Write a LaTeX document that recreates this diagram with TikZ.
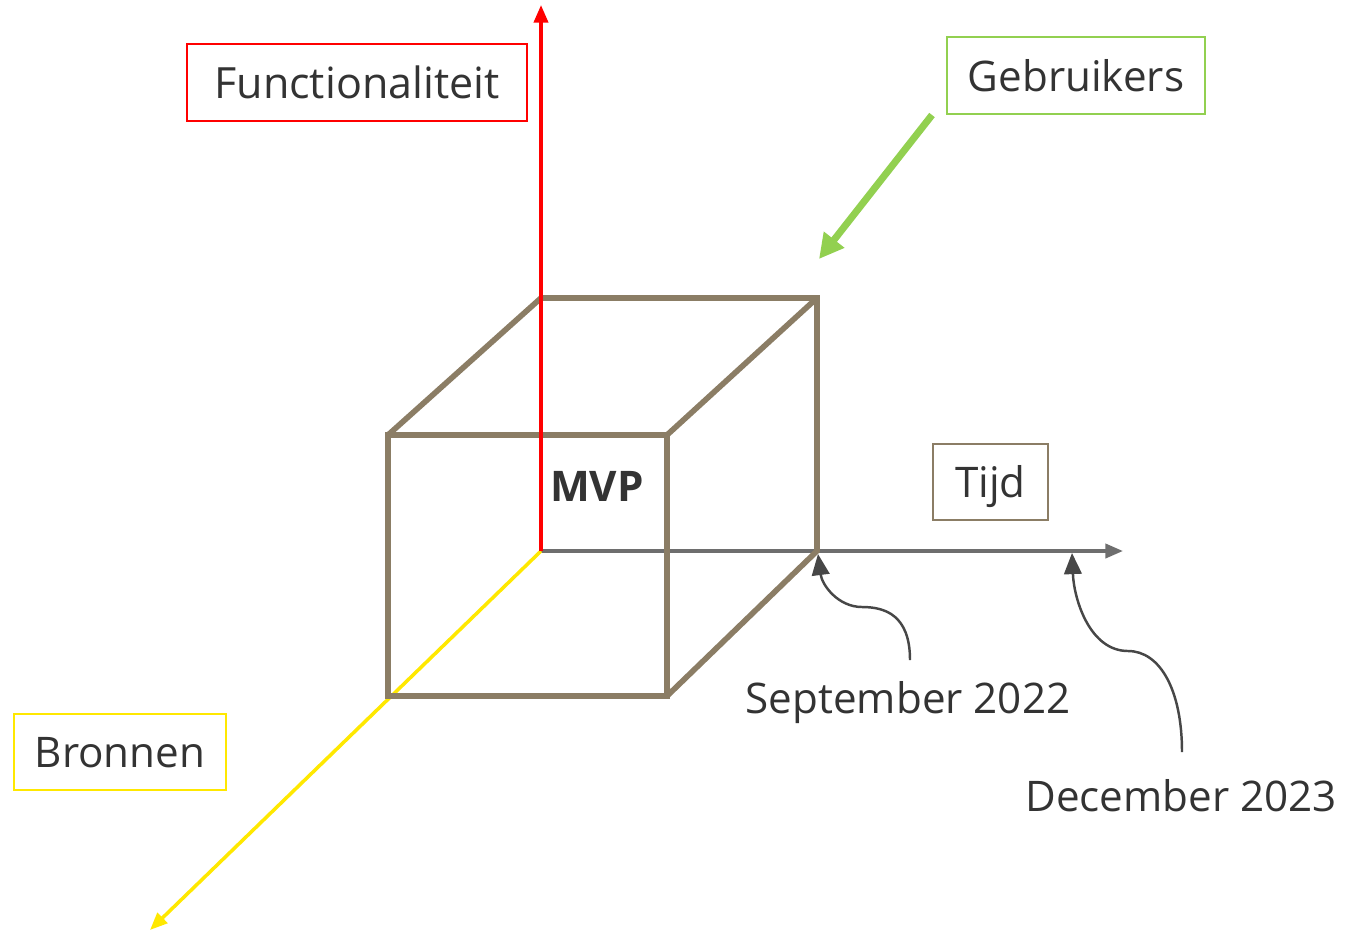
\documentclass[tikz,border=0pt]{standalone}
\usepackage{fontspec}
\setmainfont{Open Sans}
\usepackage{tikz}
\usetikzlibrary{arrows.meta,positioning}
\definecolor{cubebrown}{HTML}{8B7D65}
\definecolor{axisgray}{HTML}{6E6E6E}
\definecolor{txtgray}{HTML}{333333}
\definecolor{usergreen}{HTML}{92D050}
\definecolor{srcyellow}{HTML}{FFE800}
\begin{document}
\begin{tikzpicture}[x=0.02cm,y=-0.02cm]
                    \tikzstyle{every node}+=[inner sep=0pt,text=txtgray,font=\fontsize{24}{28}\selectfont]
                    \tikzstyle{labelbox}=[draw,line width=1pt,minimum height=1.53cm,text height=18pt,text depth=0pt]
                    \tikzstyle{cubeline}=[cubebrown,line width=3.2pt,line join=miter]
                    \tikzstyle{pointer}=[txtgray!90,line width=1.4pt,-{Triangle[length=12pt,width=10pt]}]
                    \useasboundingbox (0,0) rectangle (1345,931);
                    % axes
                    \coordinate (origin) at (541,551);
                    \coordinate (functip) at (541,5);
                    \coordinate (timetip) at (1123,551);
                    \coordinate (srctip) at (150,930);
                    \draw [axisgray,line width=2pt,-{Triangle[length=10pt,width=8pt]}] (origin) -- (timetip);
                    \draw [srcyellow,line width=2pt,-{Triangle[length=10pt,width=8pt]}] (origin) -- (srctip);
                    % cube
                    \coordinate (fa) at (388,435);
                    \coordinate (fb) at (667,435);
                    \coordinate (fc) at (667,696);
                    \coordinate (fd) at (388,696);
                    \coordinate (ba) at (541,298);
                    \coordinate (bb) at (817,298);
                    \coordinate (bc) at (817,551);
                    \draw [cubeline] (fa) -- (fb) -- (fc) -- (fd) -- cycle;
                    \draw [cubeline] (fa) -- (ba) -- (bb) -- (bc) -- (fc);
                    \draw [cubeline] (fb) -- (bb);
                    \draw [red,line width=2pt,-{Triangle[length=10pt,width=8pt]}] (origin) -- (functip);
                    \node [font=\fontsize{24}{28}\selectfont\bfseries] (mvp) at (597,486) {MVP};
                    % labels
                    \node [labelbox,draw=red,minimum width=6.8cm,font=\fontsize{24.5}{28}\selectfont] (func) at (357,82.5) {Functionaliteit};
                    \node [labelbox,draw=usergreen,minimum width=5.16cm] (users) at (1076,75.5) {Gebruikers};
                    \node [labelbox,draw=cubebrown,minimum width=2.3cm] (time) at (990.5,482) {Tijd};
                    \node [labelbox,draw=srcyellow,minimum width=4.24cm] (src) at (120,752) {Bronnen};
                    \node (sept) at (908,703) {September 2022};
                    \node (dec) at (1181,796) {December 2023};
                    % pointers
                    \coordinate (usertail) at (932,115);
                    \coordinate (userhead) at (819,259);
                    \draw [usergreen,line width=4pt,-{Triangle[length=14pt,width=14pt]}] (usertail) -- (userhead);
                    \coordinate (septmark) at (818,554);
                    \coordinate (decmark) at (1072,553);
                    \draw [pointer] (910,660) .. controls (910,615) and (885,607) .. (862,607) .. controls (838,607) and (822,585) .. (septmark);
                    \draw [pointer] (1182,752) .. controls (1182,690) and (1160,651) .. (1128,651) .. controls (1090,651) and (1074,600) .. (decmark);
\end{tikzpicture}
\end{document}
